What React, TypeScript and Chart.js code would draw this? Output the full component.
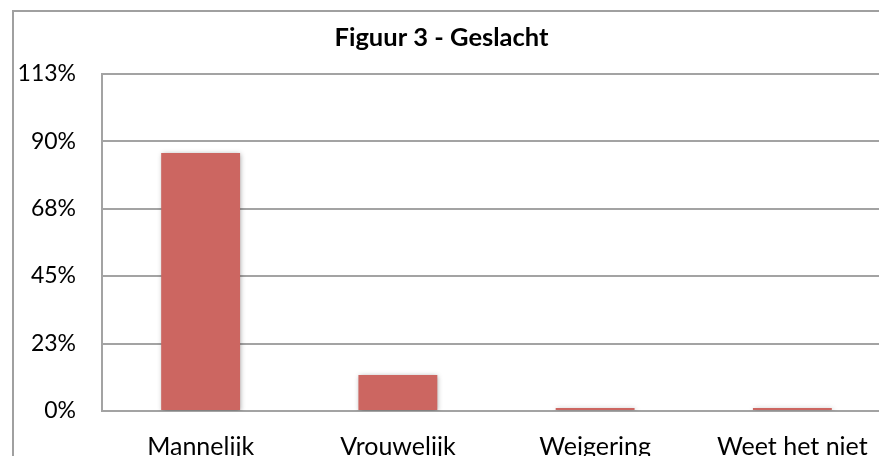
import React, { useEffect, useRef } from "react";
import { Chart, registerables } from "chart.js";

Chart.register(...registerables);

const categories = ["Mannelijk", "Vrouwelijk", "Weigering", "Weet het niet"];
const percentages = [86, 12, 1, 1];
const titleText = "Figuur 3 - Geslacht";
const yMax = 112.5;
const yStep = 22.5;

const FONT = "Lato, 'Open Sans', sans-serif";

const barShadow = {
  id: "barShadow",
  beforeDatasetDraw(chart: any) {
    const ctx = chart.ctx;
    ctx.save();
    ctx.shadowColor = "rgba(0,0,0,0.35)";
    ctx.shadowBlur = 5;
    ctx.shadowOffsetX = 1;
    ctx.shadowOffsetY = 1;
  },
  afterDatasetDraw(chart: any) {
    chart.ctx.restore();
  },
};

export default function App() {
  const ref = useRef<HTMLCanvasElement | null>(null);

  useEffect(() => {
    if (!ref.current) return;
    const chart = new Chart(ref.current, {
      type: "bar",
      data: {
        labels: categories,
        datasets: [
          {
            data: percentages,
            backgroundColor: "#CC6661",
            borderWidth: 0,
            categoryPercentage: 1,
            barPercentage: 0.4,
          },
        ],
      },
      plugins: [barShadow],
      options: {
        responsive: false,
        animation: false,
        layout: { padding: 0 },
        plugins: {
          legend: { display: false },
          tooltip: { enabled: false },
          title: {
            display: true,
            text: titleText,
            color: "#000",
            font: { family: FONT, size: 25.5, weight: "bold" },
            padding: { top: 22, bottom: 21 },
          },
        },
        scales: {
          x: {
            grid: { display: false, drawTicks: false },
            border: { display: true, color: "#a3a3a3", width: 2 },
            ticks: {
              color: "#000",
              font: { family: FONT, size: 25 },
              padding: 21,
              maxRotation: 0,
              autoSkip: false,
            },
            afterFit(scale: any) {
              scale.height = 69;
            },
          },
          y: {
            min: 0,
            max: yMax,
            grid: { color: "#a3a3a3", lineWidth: 2, drawTicks: false },
            border: { display: true, color: "#a3a3a3", width: 2 },
            ticks: {
              stepSize: yStep,
              color: "#000",
              font: { family: FONT, size: 23 },
              padding: 26,
              callback: (v: any) => Math.round(Number(v)) + "%",
            },
            afterFit(scale: any) {
              scale.width = 110;
            },
          },
        },
      },
    });
    return () => chart.destroy();
  }, []);

  return (
    <div
      style={{
        position: "fixed",
        left: 0,
        top: 0,
        width: 879,
        height: 456,
        overflow: "hidden",
        background: "#fff",
      }}
    >
      <div
        style={{
          position: "absolute",
          left: 12,
          top: 10,
          width: 2000,
          height: 2000,
          border: "2px solid #a0a0a0",
          boxSizing: "border-box",
        }}
      />
      <div style={{ position: "absolute", left: -8, top: 0 }}>
        <canvas ref={ref} width={899} height={480} />
      </div>
    </div>
  );
}
